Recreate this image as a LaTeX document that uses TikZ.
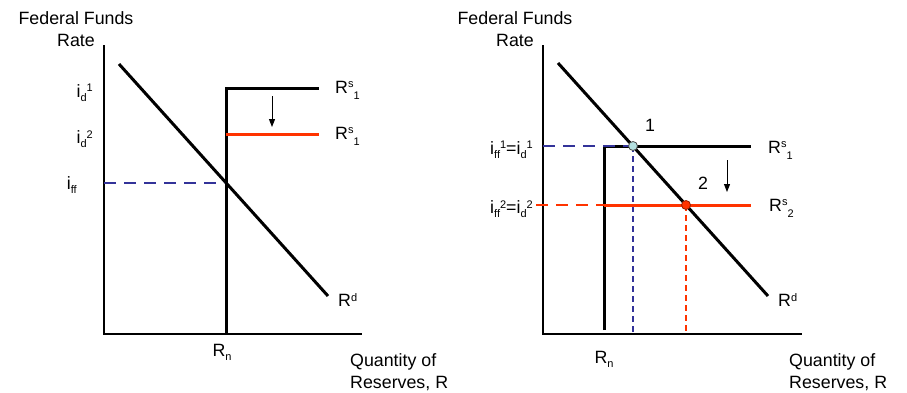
\documentclass[tikz,border=0pt]{standalone}
\usepackage{fontspec}
\setmainfont{Liberation Sans}
\usetikzlibrary{arrows.meta}
\definecolor{dblue}{HTML}{333399}
\definecolor{ored}{HTML}{FF3300}
\definecolor{ltcyan}{HTML}{B4E0E0}
\newcommand{\hi}[1]{\raisebox{5.5pt}{\fontsize{11}{11}\selectfont #1}}
\newcommand{\lo}[1]{\raisebox{-4pt}{\fontsize{11}{11}\selectfont #1}}
\newcommand{\lob}[1]{\raisebox{-6pt}{\fontsize{11}{11}\selectfont #1}}
\tikzset{
  lbl/.style={inner sep=0pt, font=\fontsize{17.8}{22}\selectfont},
  axis/.style={line width=2pt},
  curve/.style={line width=3pt},
  redline/.style={line width=3pt, ored},
  bluedash/.style={line width=2.8pt, dblue, dash pattern=on 12pt off 8pt},
  reddash/.style={line width=2.8pt, ored, dash pattern=on 12pt off 8pt},
  vbluedash/.style={line width=1.6pt, dblue, dash pattern=on 6pt off 4pt},
  vreddash/.style={line width=1.6pt, ored, dash pattern=on 6pt off 4pt},
  shiftarrow/.style={line width=1pt, -{Triangle[length=8pt,width=6pt]}},
}
\begin{document}
\begin{tikzpicture}[x=1pt,y=-1pt]
\useasboundingbox (0,0) rectangle (907,392);
% ---------- left panel ----------
\coordinate (LT) at (104,45);
\coordinate (LO) at (104,334);
\coordinate (LX) at (362,334);
\coordinate (LDa) at (119,64);
\coordinate (LDb) at (328,296);
\coordinate (LSb) at (226,334);
\coordinate (LSc) at (226,88);
\coordinate (LSe) at (319,88);
\coordinate (LRa) at (226,134);
\coordinate (LRe) at (319,134);
\coordinate (LAa) at (272,96);
\coordinate (LAb) at (272,127);
\coordinate (LBa) at (104,183);
\coordinate (LBb) at (224,183);

\draw[axis] (LT) -- (LO) -- (LX);
\draw[curve] (LDa) -- (LDb);
\draw[curve] (LSb) -- (LSc) -- (LSe);
\draw[redline] (LRa) -- (LRe);
\draw[bluedash] (LBa) -- (LBb);
\draw[shiftarrow] (LAa) -- (LAb);

\node[lbl, align=center] (Ltitle) at (76,29) {Federal Funds\\Rate};
\node[lbl, anchor=east] (Lid1) at (93,93) {i\lo{d}\hi{1}};
\node[lbl, anchor=east] (Lid2) at (93,139) {i\lo{d}\hi{2}};
\node[lbl, anchor=east] (Liff) at (77,185) {i\lo{ff}};
\node[lbl, anchor=west] (LRs1) at (335,90) {R\hi{s}\lob{1}};
\node[lbl, anchor=west] (LRs1b) at (335,136) {R\hi{s}\lob{1}};
\node[lbl, anchor=west] (LRd) at (338,300) {R\hi{d}};
\node[lbl] (LRn) at (222,352) {R\lo{n}};
\node[lbl, anchor=west, align=left] (LQ) at (350,372) {Quantity of\\Reserves, R};

% ---------- right panel ----------
\coordinate (RT) at (543,45);
\coordinate (RO) at (543,334);
\coordinate (RX) at (802,334);
\coordinate (RDa) at (558,63);
\coordinate (RDb) at (768,296);
\coordinate (RSb) at (604,330);
\coordinate (RSc) at (604,146);
\coordinate (RSe) at (751,146);
\coordinate (RRa) at (604,205);
\coordinate (RRe) at (751,205);
\coordinate (RRd) at (536,205);
\coordinate (RBa) at (543,146);
\coordinate (RP1) at (633,146);
\coordinate (RP1b) at (633,334);
\coordinate (RP2) at (686,205);
\coordinate (RP2b) at (686,334);
\coordinate (RAa) at (727,160);
\coordinate (RAb) at (727,192);

\draw[axis] (RT) -- (RO) -- (RX);
\draw[vbluedash] (RP1) -- (RP1b);
\draw[vreddash] (RP2) -- (RP2b);
\draw[curve] (RSb) -- (RSc) -- (RSe);
\draw[redline] (RRa) -- (RRe);
\draw[reddash] (RRd) -- (RRa);
\draw[bluedash] (RBa) -- (RP1);
\draw[curve] (RDa) -- (RDb);
\draw[shiftarrow] (RAa) -- (RAb);
\node[circle, draw=black!70, line width=0.8pt, fill=ltcyan, minimum size=9pt, inner sep=0pt] (P1) at (RP1) {};
\node[circle, draw=ored!60!black, line width=0.8pt, fill=ored, minimum size=9pt, inner sep=0pt] (P2) at (RP2) {};

\node[lbl, align=center] (Rtitle) at (515,29) {Federal Funds\\Rate};
\node[lbl, anchor=east] (Ri1) at (533,150) {i\lo{ff}\hi{1}=i\lo{d}\hi{1}};
\node[lbl, anchor=east] (Ri2) at (533,209) {i\lo{ff}\hi{2}=i\lo{d}\hi{2}};
\node[lbl] (N1) at (650,125) {1};
\node[lbl] (N2) at (703,183) {2};
\node[lbl, anchor=west] (RRs1) at (768,150) {R\hi{s}\lob{1}};
\node[lbl, anchor=west] (RRs2) at (769,208) {R\hi{s}\lob{2}};
\node[lbl, anchor=west] (RRd) at (778,300) {R\hi{d}};
\node[lbl] (RRn) at (604,359) {R\lo{n}};
\node[lbl, anchor=west, align=left] (RQ) at (789,372) {Quantity of\\Reserves, R};
\end{tikzpicture}
\end{document}
